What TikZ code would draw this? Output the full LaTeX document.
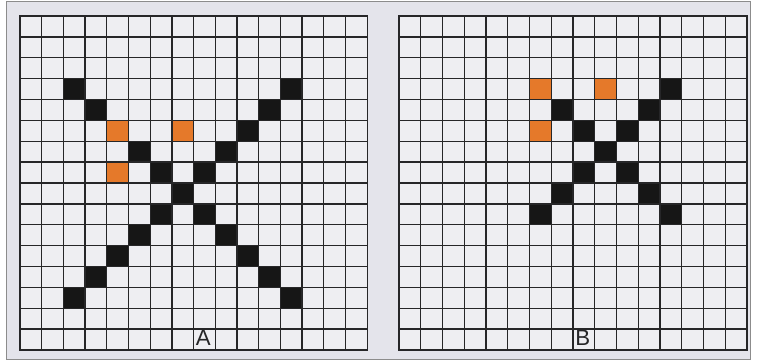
\documentclass[tikz,border=0pt]{standalone}
\usepackage{fontspec}
\setsansfont{Liberation Sans}
\usepackage{tikz}
\definecolor{pgback}{HTML}{E4E4EB}
\definecolor{pgcell}{HTML}{EEEEF2}
\definecolor{pgline}{HTML}{262628}
\definecolor{pgdot}{HTML}{161616}
\definecolor{pgorange}{HTML}{E5792A}

\begin{document}
\begin{tikzpicture}[
  x=0.03cm,
  y=-0.03cm,
  frame/.style={draw=black!45, line width=0.6pt, fill=pgback},
  board/.style={fill=pgcell},
  gridline/.style={draw=pgline, line width=1.1pt, line cap=rect},
  dotcell/.style={fill=pgdot},
  hitcell/.style={fill=pgorange},
  panellab/.style={font=\sffamily\fontsize{19}{19}\selectfont, inner sep=0pt, text=pgline}
]
  \useasboundingbox (0,0) rectangle (757,363);
  \draw[frame] (6,1.5) rectangle (750,359.5);

  % panel A
  \begin{scope}[shift={(20,16)}, x=0.651cm, y=-0.62625cm]
    \fill[board] (0,0) rectangle (16,16);
    \foreach \c/\r in {2/3,12/3,3/4,11/4,10/5,5/6,9/6,6/7,8/7,7/8,6/9,8/9,5/10,9/10,4/11,10/11,3/12,11/12,2/13,12/13}
      \fill[dotcell] (\c,\r) rectangle +(1,1);
    \foreach \c/\r in {4/5,7/5,4/7}
      \fill[hitcell] (\c,\r) rectangle +(1,1);
    \foreach \i in {0,...,16} {
      \draw[gridline] (\i,0) -- (\i,16);
      \draw[gridline] (0,\i) -- (16,\i);
    }
    \node[panellab] (labA) at (8.45,15.4) {A};
  \end{scope}

  % panel B
  \begin{scope}[shift={(399,16)}, x=0.6525cm, y=-0.62625cm]
    \fill[board] (0,0) rectangle (16,16);
    \foreach \c/\r in {12/3,7/4,11/4,8/5,10/5,9/6,8/7,10/7,7/8,11/8,6/9,12/9}
      \fill[dotcell] (\c,\r) rectangle +(1,1);
    \foreach \c/\r in {6/3,9/3,6/5}
      \fill[hitcell] (\c,\r) rectangle +(1,1);
    \foreach \i in {0,...,16} {
      \draw[gridline] (\i,0) -- (\i,16);
      \draw[gridline] (0,\i) -- (16,\i);
    }
    \node[panellab] (labB) at (8.45,15.4) {B};
  \end{scope}
\end{tikzpicture}
\end{document}
